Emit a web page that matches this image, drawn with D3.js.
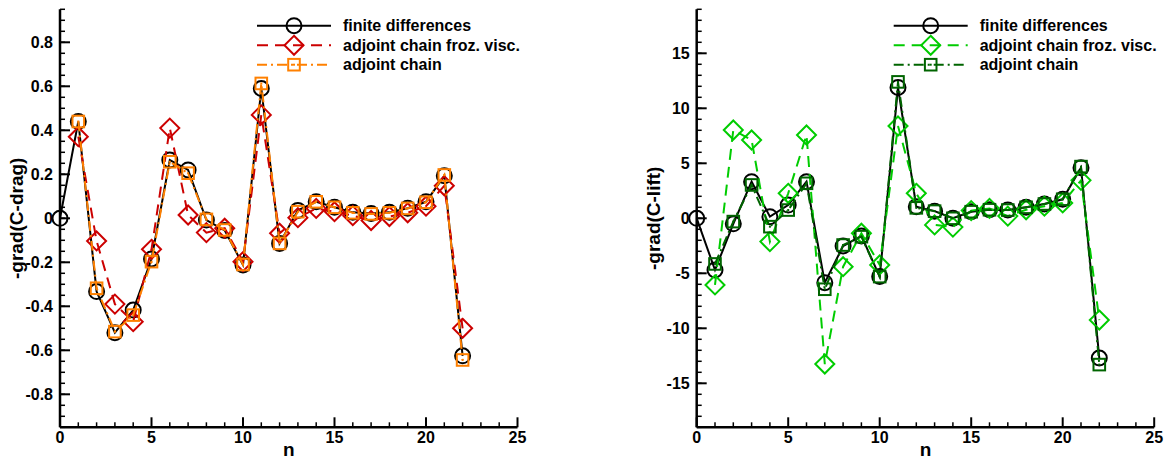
<!DOCTYPE html>
<html>
<head>
<meta charset="utf-8">
<script src="https://cdn.jsdelivr.net/npm/d3@7"></script>
<style>
  html, body { margin: 0; padding: 0; background: #fff; }
  svg { display: block; }
  text { font-family: "Liberation Sans", Arial, Helvetica, sans-serif; font-weight: bold; fill: #000; }
</style>
</head>
<body>
<svg id="chart" width="1164" height="461"></svg>
<script>
// Design-variable index n
const nAll = d3.range(0, 23);
const nAdj = d3.range(1, 23);

// Drag gradient, -grad(C-drag)
const dragFiniteDiff = [0, 0.44, -0.333, -0.52, -0.417, -0.185, 0.265, 0.22, -0.008, -0.055, -0.212, 0.59, -0.114,
  0.036, 0.075, 0.05, 0.027, 0.022, 0.027, 0.046, 0.075, 0.193, -0.625];
const dragAdjFrozen = [0.371, -0.103, -0.39, -0.47, -0.141, 0.41, 0.015, -0.065, -0.045, -0.197, 0.47, -0.068,
  0.003, 0.045, 0.03, 0.012, -0.01, 0.008, 0.025, 0.055, 0.148, -0.5];
const dragAdjChain = [0.44, -0.318, -0.515, -0.44, -0.197, 0.257, 0.205, -0.005, -0.053, -0.21, 0.613, -0.114,
  0.03, 0.075, 0.05, 0.025, 0.02, 0.025, 0.045, 0.073, 0.197, -0.644];

// Lift gradient, -grad(C-lift)
const liftFiniteDiff = [0, -4.7, -0.5, 3.33, 0.15, 1.2, 3.33, -5.85, -2.52, -1.6, -5.3, 11.9, 1.05,
  0.65, 0.0, 0.6, 0.78, 0.75, 1.0, 1.3, 1.73, 4.6, -12.7];
const liftAdjFrozen = [-6.06, 8.03, 7.12, -2.12, 2.27, 7.57, -13.25, -4.4, -1.36, -4.24, 8.39, 2.27,
  -0.6, -0.8, 0.7, 0.9, 0.2, 0.78, 1.1, 1.4, 3.45, -9.25];
const liftAdjChain = [-4.15, -0.3, 3.03, -0.76, 0.75, 3.18, -6.45, -2.43, -1.67, -5.3, 12.4, 0.95,
  0.65, 0.0, 0.6, 0.78, 0.75, 1.0, 1.3, 1.73, 4.7, -13.3];

// Tick values and labels
const xMajorTicks = [0, 5, 10, 15, 20, 25];
const dragTickValues = [-0.8, -0.6, -0.4, -0.2, 0, 0.2, 0.4, 0.6, 0.8];
const dragTickLabels = ["-0.8", "-0.6", "-0.4", "-0.2", "0", "0.2", "0.4", "0.6", "0.8"];
const liftTickValues = [-15, -10, -5, 0, 5, 10, 15];
const liftTickLabels = ["-15", "-10", "-5", "0", "5", "10", "15"];

const legendLabels = ["finite differences", "adjoint chain froz. visc.", "adjoint chain"];

const svg = d3.select("#chart");

const dashStyles = { solid: null, dashed: "11,7", dashdot: "10,4,2,4" };

function marker(g, type, x, y, color) {
  if (type === "circle") {
    g.append("circle").attr("cx", x).attr("cy", y).attr("r", 7.5)
      .attr("fill", "none").attr("stroke", color).attr("stroke-width", 2);
  } else if (type === "diamond") {
    const r = 9.5;
    g.append("path")
      .attr("d", `M${x},${y - r}L${x + r},${y}L${x},${y + r}L${x - r},${y}Z`)
      .attr("fill", "none").attr("stroke", color).attr("stroke-width", 2);
  } else if (type === "square") {
    const h = 5.8;
    g.append("rect").attr("x", x - h).attr("y", y - h).attr("width", 2 * h).attr("height", 2 * h)
      .attr("fill", "none").attr("stroke", color).attr("stroke-width", 2);
    g.append("rect").attr("x", x - 1).attr("y", y - 1).attr("width", 2).attr("height", 2)
      .attr("fill", color);
  }
}

function drawPanel(cfg) {
  const g = svg.append("g");
  const x = d3.scaleLinear().domain([0, 25]).range([cfg.left, cfg.left + 457.5]);
  const y = d3.scaleLinear().domain(cfg.yDomain).range([427.3, 9.3]);

  // Series: line first, then its markers
  cfg.series.forEach(s => {
    const pts = s.n.map((n, i) => [n, s.v[i]]);
    const line = d3.line().x(d => x(d[0])).y(d => y(d[1]));
    g.append("path").datum(pts)
      .attr("d", line)
      .attr("fill", "none")
      .attr("stroke", s.color)
      .attr("stroke-width", 2)
      .attr("stroke-dasharray", dashStyles[s.dash]);
    const mg = g.append("g");
    pts.forEach(p => marker(mg, s.marker, x(p[0]), y(p[1]), s.color));
  });

  // Y axis with inward ticks
  const yAxis = g.append("g");
  yAxis.append("line").attr("x1", x(0)).attr("x2", x(0)).attr("y1", y(cfg.yDomain[0])).attr("y2", y(cfg.yDomain[1]))
    .attr("stroke", "#000").attr("stroke-width", 2.5);
  const yMinor = d3.range(Math.round(cfg.yDomain[0] / cfg.yMinor), Math.round(cfg.yDomain[1] / cfg.yMinor) + 1)
    .map(k => k * cfg.yMinor);
  yMinor.forEach(v => {
    yAxis.append("line").attr("x1", x(0)).attr("x2", x(0) + 5).attr("y1", y(v)).attr("y2", y(v))
      .attr("stroke", "#000").attr("stroke-width", 1.5);
  });
  cfg.yTicks.forEach((v, i) => {
    yAxis.append("line").attr("x1", x(0)).attr("x2", x(0) + 10).attr("y1", y(v)).attr("y2", y(v))
      .attr("stroke", "#000").attr("stroke-width", 2);
    yAxis.append("text").attr("x", x(0) - 7).attr("y", y(v)).attr("dy", "0.35em")
      .attr("text-anchor", "end").attr("font-size", 16).text(cfg.yLabels[i]);
  });

  // X axis with inward ticks
  const xAxis = g.append("g");
  xAxis.append("line").attr("x1", x(0)).attr("x2", x(25)).attr("y1", y(cfg.yDomain[0])).attr("y2", y(cfg.yDomain[0]))
    .attr("stroke", "#000").attr("stroke-width", 2.5);
  d3.range(0, 26).forEach(v => {
    const major = v % 5 === 0;
    xAxis.append("line").attr("x1", x(v)).attr("x2", x(v))
      .attr("y1", y(cfg.yDomain[0])).attr("y2", y(cfg.yDomain[0]) - (major ? 10 : 5))
      .attr("stroke", "#000").attr("stroke-width", major ? 2 : 1.5);
  });
  xMajorTicks.forEach(v => {
    xAxis.append("text").attr("x", x(v)).attr("y", 443).attr("text-anchor", "middle")
      .attr("font-size", 16).text(v);
  });

  // Axis titles
  g.append("text").attr("x", (x(0) + x(25)) / 2).attr("y", 456).attr("text-anchor", "middle")
    .attr("font-size", 19).text("n");
  g.append("text")
    .attr("transform", `translate(${cfg.left - 37},${y(0)}) rotate(-90)`)
    .attr("text-anchor", "middle").attr("font-size", 19).text(cfg.yTitle);

  // Legend
  const rows = [25.7, 45.3, 64.7];
  cfg.series.forEach((s, i) => {
    const ly = rows[i];
    g.append("line").attr("x1", cfg.left + 197).attr("x2", cfg.left + 271).attr("y1", ly).attr("y2", ly)
      .attr("stroke", s.color).attr("stroke-width", 2).attr("stroke-dasharray", dashStyles[s.dash]);
    marker(g, s.marker, cfg.left + 234, ly, s.color);
    g.append("text").attr("x", cfg.left + 283).attr("y", ly).attr("dy", "0.36em")
      .attr("font-size", 16).text(legendLabels[i]);
  });
}

drawPanel({
  left: 60,
  yDomain: [-0.95, 0.95],
  yMinor: 0.05,
  yTicks: dragTickValues,
  yLabels: dragTickLabels,
  yTitle: "-grad(C-drag)",
  series: [
    { n: nAll, v: dragFiniteDiff, color: "#000000", dash: "solid", marker: "circle" },
    { n: nAdj, v: dragAdjFrozen, color: "#cc0000", dash: "dashed", marker: "diamond" },
    { n: nAdj, v: dragAdjChain, color: "#ff8000", dash: "dashdot", marker: "square" }
  ]
});

drawPanel({
  left: 696.7,
  yDomain: [-19, 19],
  yMinor: 1,
  yTicks: liftTickValues,
  yLabels: liftTickLabels,
  yTitle: "-grad(C-lift)",
  series: [
    { n: nAll, v: liftFiniteDiff, color: "#000000", dash: "solid", marker: "circle" },
    { n: nAdj, v: liftAdjFrozen, color: "#00cc00", dash: "dashed", marker: "diamond" },
    { n: nAdj, v: liftAdjChain, color: "#006400", dash: "dashdot", marker: "square" }
  ]
});
</script>
</body>
</html>
